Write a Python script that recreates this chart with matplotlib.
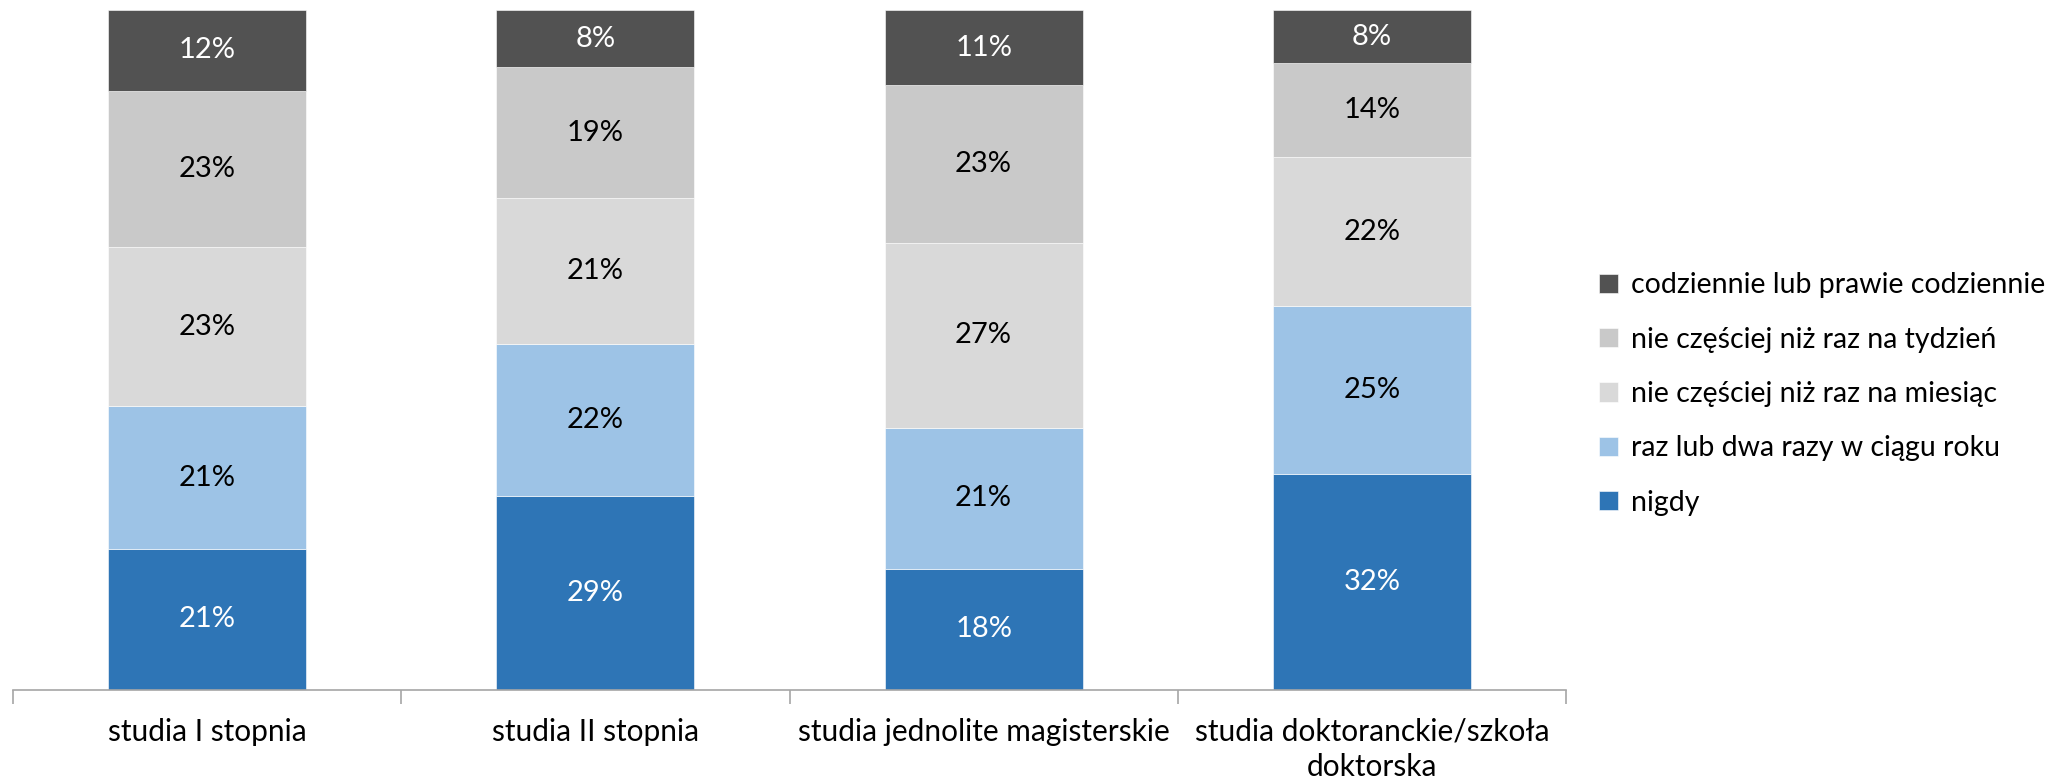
import matplotlib.pyplot as plt
import numpy as np

plt.rcParams['font.family'] = ['Lato', 'DejaVu Sans']

categories = ["studia I stopnia", "studia II stopnia", "studia jednolite magisterskie",
              "studia doktoranckie/szkoła\ndoktorska"]
series_names = ["nigdy", "raz lub dwa razy w ciągu roku", "nie częściej niż raz na miesiąc",
                "nie częściej niż raz na tydzień", "codziennie lub prawie codziennie"]
# percentages per series (bottom -> top), one value per category
nigdy = [20.8, 28.6, 17.8, 31.8]
raz_dwa = [20.9, 22.3, 20.8, 24.6]
miesiac = [23.4, 21.4, 27.1, 22.0]
tydzien = [23.0, 19.3, 23.2, 13.8]
codziennie = [11.9, 8.4, 11.1, 7.8]
labels = [["21%", "29%", "18%", "32%"],
          ["21%", "22%", "21%", "25%"],
          ["23%", "21%", "27%", "22%"],
          ["23%", "19%", "23%", "14%"],
          ["12%", "8%", "11%", "8%"]]

colors = ["#2E75B6", "#9DC3E6", "#D9D9D9", "#C9C9C9", "#525252"]
text_colors = ["white", "black", "black", "black", "white"]

fig = plt.figure(figsize=(20.72, 7.83), dpi=100)
ax = fig.add_axes([13 / 2072, 1 - 690 / 783, (1566 - 13) / 2072, (690 - 10) / 783])

x = np.arange(len(categories))
bottom = np.zeros(len(categories))
bars = []
for i, vals in enumerate([nigdy, raz_dwa, miesiac, tydzien, codziennie]):
    vals = np.array(vals)
    b = ax.bar(x, vals, 0.51, bottom=bottom, color=colors[i], label=series_names[i],
               edgecolor="white", linewidth=0.4)
    bars.append(b)
    for j in range(len(x)):
        ax.text(x[j], bottom[j] + vals[j] / 2, labels[i][j], ha="center", va="center",
                fontsize=21, color=text_colors[i])
    bottom += vals

ax.set_xlim(-0.5, len(categories) - 0.5)
ax.set_ylim(0, 100)
ax.set_yticks([])
for s in ["top", "right", "left"]:
    ax.spines[s].set_visible(False)
ax.spines["bottom"].set_color("#A6A6A6")
ax.spines["bottom"].set_linewidth(1.2)

ax.set_xticks(np.arange(-0.5, len(categories), 1.0), minor=False)
ax.set_xticklabels([])
ax.tick_params(axis="x", length=10, color="#A6A6A6", width=1.2)
ax.set_xticks(x, minor=True)
ax.set_xticklabels(categories, minor=True, fontsize=21.5, linespacing=1.3)
ax.tick_params(axis="x", which="minor", length=0, pad=20)

handles = bars[::-1]
leg = fig.legend(handles, series_names[::-1], loc="center left",
                 bbox_to_anchor=(1588 / 2072, 1 - 394 / 783), frameon=False,
                 fontsize=20.5, handlelength=0.65, handleheight=0.65,
                 handletextpad=0.45, labelspacing=1.0, borderaxespad=0)

fig.savefig("out.png", dpi=100)
